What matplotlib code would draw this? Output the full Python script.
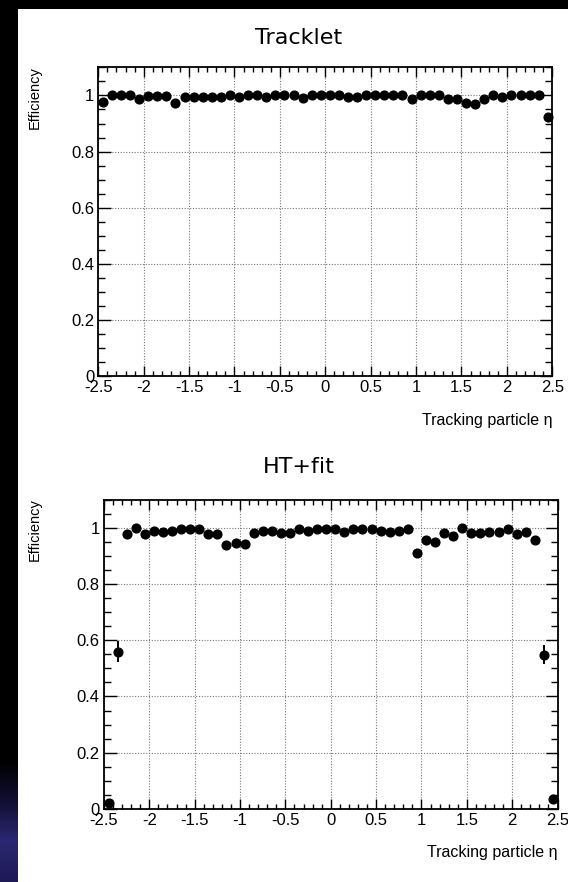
import matplotlib
matplotlib.use("Agg")
import matplotlib.pyplot as plt
import numpy as np
from matplotlib.patches import Rectangle
from matplotlib.colors import LinearSegmentedColormap
from matplotlib.ticker import FixedLocator, MultipleLocator

# ---------------- data ----------------
eta_centers = [-2.45, -2.35, -2.25, -2.15, -2.05, -1.95, -1.85, -1.75, -1.65, -1.55,
               -1.45, -1.35, -1.25, -1.15, -1.05, -0.95, -0.85, -0.75, -0.65, -0.55,
               -0.45, -0.35, -0.25, -0.15, -0.05, 0.05, 0.15, 0.25, 0.35, 0.45,
               0.55, 0.65, 0.75, 0.85, 0.95, 1.05, 1.15, 1.25, 1.35, 1.45,
               1.55, 1.65, 1.75, 1.85, 1.95, 2.05, 2.15, 2.25, 2.35, 2.45]

tracklet_eff = [0.978, 1.0, 1.0, 1.0, 0.987, 0.998, 0.998, 0.998, 0.974, 0.995,
                0.995, 0.995, 0.995, 0.995, 1.0, 0.995, 1.0, 1.0, 0.993, 1.0,
                1.0, 1.0, 0.992, 1.0, 1.0, 1.0, 1.0, 0.994, 0.994, 1.0,
                1.0, 1.0, 1.0, 1.0, 0.989, 1.0, 1.0, 1.0, 0.987, 0.988,
                0.974, 0.969, 0.987, 1.0, 0.994, 1.0, 1.0, 1.0, 1.0, 0.923]
tracklet_err_lo = [0.006, 0.003, 0.003, 0.003, 0.005, 0.003, 0.003, 0.003, 0.007, 0.003,
                   0.003, 0.003, 0.003, 0.003, 0.003, 0.003, 0.003, 0.003, 0.004, 0.003,
                   0.003, 0.003, 0.004, 0.003, 0.003, 0.003, 0.003, 0.004, 0.004, 0.003,
                   0.003, 0.003, 0.003, 0.003, 0.004, 0.003, 0.003, 0.003, 0.005, 0.005,
                   0.007, 0.008, 0.005, 0.003, 0.004, 0.003, 0.003, 0.003, 0.003, 0.014]
tracklet_err_hi = [0.005, 0.0, 0.0, 0.0, 0.004, 0.002, 0.002, 0.002, 0.006, 0.003,
                   0.003, 0.003, 0.003, 0.003, 0.0, 0.003, 0.0, 0.0, 0.003, 0.0,
                   0.0, 0.0, 0.003, 0.0, 0.0, 0.0, 0.0, 0.003, 0.003, 0.0,
                   0.0, 0.0, 0.0, 0.0, 0.004, 0.0, 0.0, 0.0, 0.004, 0.004,
                   0.006, 0.007, 0.004, 0.0, 0.003, 0.0, 0.0, 0.0, 0.0, 0.012]

htfit_eff = [0.022, 0.559, 0.978, 1.0, 0.978, 0.988, 0.986, 0.989, 0.994, 0.994,
             0.994, 0.979, 0.979, 0.939, 0.944, 0.941, 0.982, 0.988, 0.989, 0.980,
             0.982, 0.994, 0.988, 0.995, 0.994, 0.994, 0.985, 0.994, 0.994, 0.994,
             0.989, 0.986, 0.989, 0.994, 0.909, 0.956, 0.949, 0.980, 0.971, 1.0,
             0.980, 0.980, 0.986, 0.986, 0.994, 0.979, 0.985, 0.956, 0.549, 0.034]
htfit_err_lo = [0.008, 0.036, 0.005, 0.003, 0.005, 0.004, 0.004, 0.004, 0.003, 0.003,
                0.003, 0.005, 0.005, 0.008, 0.008, 0.008, 0.005, 0.004, 0.004, 0.005,
                0.005, 0.003, 0.004, 0.003, 0.003, 0.003, 0.004, 0.003, 0.003, 0.003,
                0.004, 0.004, 0.004, 0.003, 0.014, 0.010, 0.010, 0.006, 0.007, 0.003,
                0.006, 0.006, 0.005, 0.005, 0.004, 0.006, 0.005, 0.010, 0.035, 0.010]
htfit_err_hi = [0.012, 0.039, 0.004, 0.0, 0.004, 0.003, 0.003, 0.003, 0.002, 0.002,
                0.002, 0.004, 0.004, 0.007, 0.007, 0.007, 0.004, 0.003, 0.003, 0.004,
                0.004, 0.002, 0.003, 0.002, 0.002, 0.002, 0.003, 0.002, 0.002, 0.002,
                0.003, 0.003, 0.003, 0.002, 0.013, 0.009, 0.009, 0.005, 0.006, 0.0,
                0.005, 0.005, 0.004, 0.004, 0.003, 0.005, 0.004, 0.009, 0.033, 0.013]

x_tick_values = [-2.5, -2.0, -1.5, -1.0, -0.5, 0.0, 0.5, 1.0, 1.5, 2.0, 2.5]
x_tick_labels = ["-2.5", "-2", "-1.5", "-1", "-0.5", "0", "0.5", "1", "1.5", "2", "2.5"]
y_tick_values = [0.0, 0.2, 0.4, 0.6, 0.8, 1.0]
y_tick_labels = ["0", "0.2", "0.4", "0.6", "0.8", "1"]

titles = ["Tracklet", "HT+fit"]
x_label = "Tracking particle \u03b7"
y_label = "Efficiency"

# ---------------- figure ----------------
W, H = 568, 882
fig = plt.figure(figsize=(W / 100, H / 100), dpi=100)
fig.patch.set_facecolor("black")

# white page area
fig.patches.append(Rectangle((18 / W, 0), 1 - 18 / W, 1 - 9 / H, transform=fig.transFigure,
                             facecolor="white", edgecolor="none", zorder=-10))
# dark bluish desktop glimpse in bottom-left strip (decoration only)
bg_ax = fig.add_axes([0, 0, 18 / W, 120 / H], zorder=-5)
bg_ax.axis("off")
cmap_bg = LinearSegmentedColormap.from_list("bg", ["#000000", "#120f35", "#2b2872", "#1d1a55"])
gradient = np.linspace(0.0, 1.0, 64).reshape(-1, 1)
bg_ax.imshow(gradient, aspect="auto", cmap=cmap_bg, origin="upper", extent=[0, 1, 0, 1])

tick_font = {"family": ["Liberation Sans", "DejaVu Sans"], "size": 12}

panels = [
    (98.3, 552.3, 67.4, 376.0, tracklet_eff, tracklet_err_lo, tracklet_err_hi, 38, 420),
    (104.0, 557.5, 499.6, 809.0, htfit_eff, htfit_err_lo, htfit_err_hi, 467, 852),
]

for k, (xl, xr, yt, yb, eff, elo, ehi, title_y, xlab_y) in enumerate(panels):
    ax = fig.add_axes([xl / W, 1 - yb / H, (xr - xl) / W, (yb - yt) / H])
    ax.set_facecolor("white")
    ax.set_xlim(-2.5, 2.5)
    ax.set_ylim(0, 1.1)

    ax.xaxis.set_major_locator(FixedLocator(x_tick_values))
    ax.xaxis.set_minor_locator(MultipleLocator(0.1))
    ax.yaxis.set_major_locator(FixedLocator(y_tick_values))
    ax.yaxis.set_minor_locator(MultipleLocator(0.05))
    ax.set_xticklabels(x_tick_labels, fontdict=tick_font)
    ax.set_yticklabels(y_tick_labels, fontdict=tick_font)

    ax.tick_params(axis="both", which="both", direction="in", top=True, right=True,
                   color="black", width=1.0)
    ax.tick_params(axis="x", which="major", length=7.5, pad=3)
    ax.tick_params(axis="x", which="minor", length=3.8)
    ax.tick_params(axis="y", which="major", length=9, pad=3)
    ax.tick_params(axis="y", which="minor", length=5)

    ax.grid(True, which="major", color="#777777", linestyle=(0, (1, 1.5)), linewidth=0.8)
    ax.set_axisbelow(True)
    for s in ax.spines.values():
        s.set_linewidth(1.3)
        s.set_color("black")

    ax.errorbar(eta_centers, eff, yerr=[elo, ehi], fmt="o", color="black",
                markersize=6.3, elinewidth=1.4, capsize=0, zorder=3, clip_on=False)

    fig.text(299 / W, 1 - title_y / H, titles[k], ha="center", va="center",
             fontsize=16, family=["DejaVu Sans"], color="black")
    fig.text(xr / W, 1 - xlab_y / H, x_label, ha="right", va="center",
             fontsize=11.5, family=["Liberation Sans", "DejaVu Sans"], color="black")
    fig.text(35 / W, 1 - (yt - 1) / H, y_label, ha="center", va="top", rotation=90,
             fontsize=10.5, family=["Liberation Sans", "DejaVu Sans"], color="black")

fig.savefig("out.png", dpi=100, facecolor=fig.get_facecolor())
